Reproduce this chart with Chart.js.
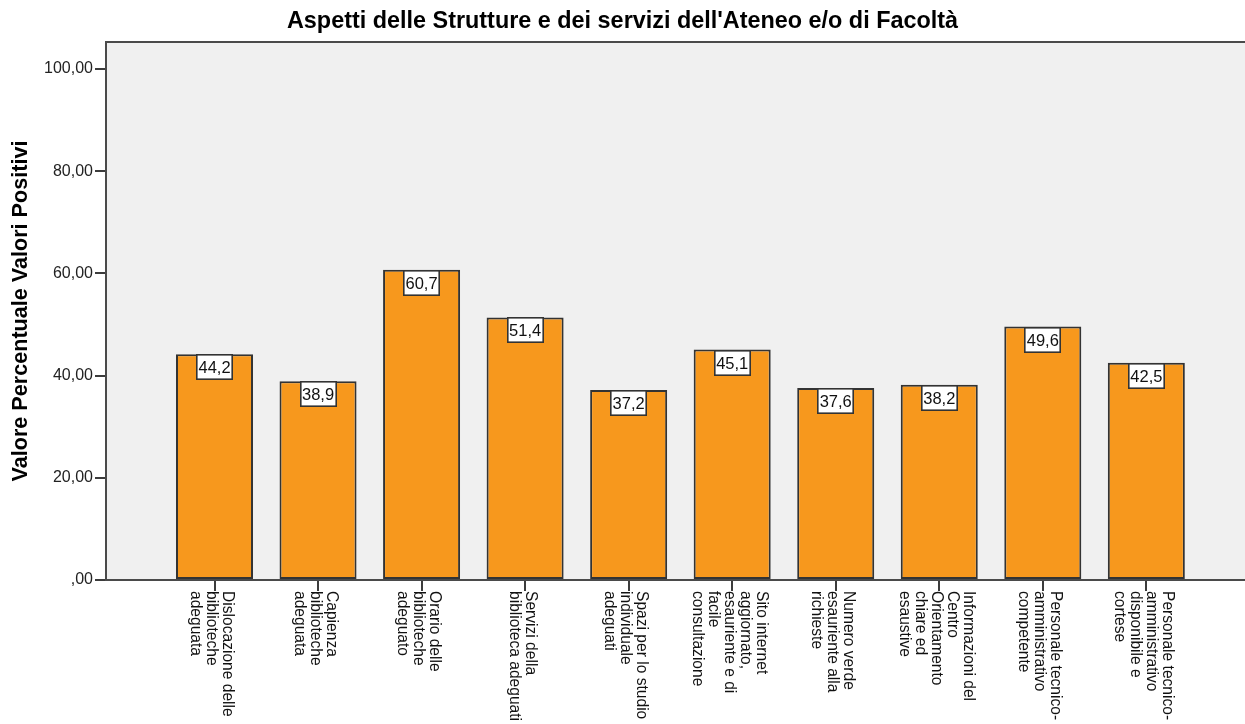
<!DOCTYPE html>
<html>
<head>
<meta charset="utf-8">
<script src="https://cdn.jsdelivr.net/npm/chart.js@4/dist/chart.umd.min.js"></script>
<style>
  html, body { margin: 0; padding: 0; background: #ffffff; }
  #wrap { width: 1245px; height: 724px; }
</style>
</head>
<body>
<div id="wrap"><canvas id="c" width="1245" height="724"></canvas></div>
<script>
const chartTitle = "Aspetti delle Strutture e dei servizi dell'Ateneo e/o di Facoltà";
const yAxisTitle = "Valore Percentuale Valori Positivi";
const categories = [
  ["Dislocazione delle", "biblioteche", "adeguata"],
  ["Capienza", "biblioteche", "adeguata"],
  ["Orario delle", "biblioteche", "adeguato"],
  ["Servizi della", "biblioteca adeguati"],
  ["Spazi per lo studio", "individuale", "adeguati"],
  ["Sito internet", "aggiornato,", "esauriente e di", "facile", "consultazione"],
  ["Numero verde", "esauriente alla", "richieste"],
  ["Informazioni del", "Centro", "Orientamento", "chiare ed", "esaustive"],
  ["Personale tecnico-", "amministrativo", "competente"],
  ["Personale tecnico-", "amministrativo", "disponibile e", "cortese"]
];
const values = [44.2, 38.9, 60.7, 51.4, 37.2, 45.1, 37.6, 38.2, 49.6, 42.5];
const yTicks = [0, 20, 40, 60, 80, 100];
const yTickLabels = [",00", "20,00", "40,00", "60,00", "80,00", "100,00"];
const valueLabels = values.map(v => v.toFixed(1).replace('.', ','));

Chart.defaults.font.family = "'Liberation Sans', Arial, sans-serif";

const frame = {
  id: 'frame',
  beforeDraw(chart) {
    const { ctx, chartArea: a } = chart;
    ctx.save();
    ctx.fillStyle = '#F0F0F0';
    ctx.fillRect(a.left, a.top, a.right - a.left, a.bottom - a.top);
    ctx.restore();
  },
  afterDraw(chart) {
    const { ctx, chartArea: a } = chart;
    ctx.save();
    ctx.strokeStyle = '#4a4a4a';
    ctx.lineWidth = 2;
    ctx.beginPath();
    ctx.moveTo(a.left - 1, Math.round(a.top));
    ctx.lineTo(a.right, Math.round(a.top));
    ctx.stroke();
    ctx.restore();
  }
};

const valueBoxes = {
  id: 'valueBoxes',
  afterDatasetsDraw(chart) {
    const { ctx } = chart;
    const meta = chart.getDatasetMeta(0);
    ctx.save();
    ctx.font = "16.5px 'Liberation Sans', Arial, sans-serif";
    ctx.textAlign = 'center';
    ctx.textBaseline = 'middle';
    meta.data.forEach((bar, i) => {
      const w = 37, h = 26;
      const x0 = Math.round(bar.x - w / 2);
      const y0 = Math.round(bar.y);
      ctx.fillStyle = '#ffffff';
      ctx.fillRect(x0, y0, w, h);
      ctx.strokeStyle = '#333333';
      ctx.lineWidth = 1.6;
      ctx.strokeRect(x0 + 0.8, y0 + 0.8, w - 1.6, h - 1.6);
      ctx.fillStyle = '#111111';
      ctx.fillText(valueLabels[i], bar.x, y0 + h / 2 + 1);
    });
    ctx.restore();
  }
};

const xLabels = {
  id: 'xLabels',
  afterDraw(chart) {
    const { ctx } = chart;
    const xs = chart.scales.x;
    const top = chart.chartArea.bottom + 11;
    const lh = 16;
    ctx.save();
    ctx.font = "15.6px 'Liberation Sans', Arial, sans-serif";
    ctx.fillStyle = '#111111';
    ctx.textAlign = 'left';
    ctx.textBaseline = 'middle';
    categories.forEach((lines, i) => {
      const px = xs.getPixelForValue(i);
      ctx.save();
      ctx.translate(px - 3, top);
      ctx.rotate(Math.PI / 2);
      lines.forEach((ln, j) => {
        ctx.fillText(ln, 0, (j - (lines.length - 1) / 2) * lh);
      });
      ctx.restore();
    });
    ctx.restore();
  }
};

new Chart(document.getElementById('c'), {
  type: 'bar',
  data: {
    datasets: [{
      data: values.map((v, i) => ({ x: i, y: v })),
      backgroundColor: 'rgb(247,152,29)',
      borderColor: '#333333',
      borderWidth: 2,
      borderSkipped: false,
      categoryPercentage: 1,
      barPercentage: 0.744
    }]
  },
  options: {
    responsive: false,
    animation: false,
    events: [],
    layout: { padding: 0 },
    plugins: {
      legend: { display: false },
      tooltip: { enabled: false },
      title: {
        display: true,
        text: chartTitle,
        color: '#000000',
        font: { size: 23.4, weight: 'bold' },
        padding: { top: 8, bottom: 6 }
      }
    },
    scales: {
      x: {
        type: 'linear',
        min: -1.048,
        max: 9.953,
        offset: false,
        afterBuildTicks: (s) => { s.ticks = categories.map((c, i) => ({ value: i })); },
        afterFit: (s) => { s.height = 144; },
        ticks: { display: false },
        grid: {
          offset: false,
          drawOnChartArea: false,
          drawTicks: true,
          tickLength: 11,
          color: '#3c3c3c',
          lineWidth: 2
        },
        border: { display: true, color: '#4a4a4a', width: 2 }
      },
      y: {
        type: 'linear',
        min: 0,
        max: 105.28,
        afterBuildTicks: (s) => { s.ticks = yTicks.map(v => ({ value: v })); },
        afterFit: (s) => { s.width = 106; },
        ticks: {
          padding: 2,
          color: '#222222',
          font: { size: 16 },
          callback: (v, idx) => yTickLabels[idx]
        },
        grid: {
          drawOnChartArea: false,
          drawTicks: true,
          tickLength: 11,
          color: '#3c3c3c',
          lineWidth: 2
        },
        border: { display: true, color: '#4a4a4a', width: 2 },
        title: {
          display: true,
          text: yAxisTitle,
          color: '#000000',
          font: { size: 21.6, weight: 'bold' },
          padding: { top: 8, bottom: 0 }
        }
      }
    }
  },
  plugins: [frame, valueBoxes, xLabels]
});
</script>
</body>
</html>
